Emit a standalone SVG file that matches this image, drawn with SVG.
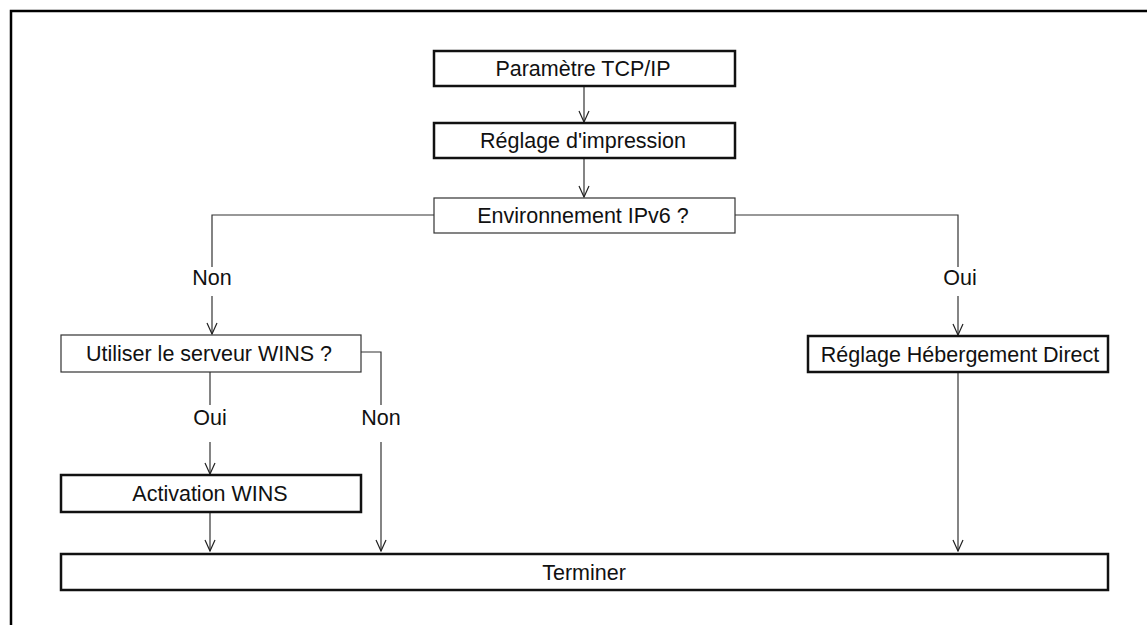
<svg xmlns="http://www.w3.org/2000/svg" width="1147" height="625" viewBox="0 0 1147 625">
<style>
.thick{fill:#fff;stroke:#111;stroke-width:2.5}
.thin{fill:#fff;stroke:#333;stroke-width:1.2}
.t{font-family:"Liberation Sans",Arial,sans-serif;font-size:21.5px;fill:#111;text-anchor:middle}
.c{fill:none;stroke:#333;stroke-width:1.2}
.a{fill:none;stroke:#333;stroke-width:1.2;marker-end:url(#v)}
</style>
<defs>
<marker id="v" markerUnits="userSpaceOnUse" markerWidth="14" markerHeight="14" viewBox="-13 -7 14 14" refX="0" refY="0" orient="auto">
<path d="M-11,-5 L0,0 L-11,5" fill="none" stroke="#222" stroke-width="1.2"/>
</marker>
</defs>
<rect width="1147" height="625" fill="#fff"/>
<path d="M11,625 V11 H1147" fill="none" stroke="#000" stroke-width="2.5"/>
<g id="connectors">
<line class="a" x1="584" y1="86" x2="584" y2="122"/>
<line class="a" x1="584" y1="158" x2="584" y2="197"/>
<polyline class="c" points="434,215 212,215 212,267"/>
<line class="a" x1="212" y1="296" x2="212" y2="334"/>
<polyline class="c" points="735,215 958,215 958,267"/>
<line class="a" x1="958" y1="296" x2="958" y2="335"/>
<line class="c" x1="210" y1="372" x2="210" y2="405"/>
<line class="a" x1="210" y1="442" x2="210" y2="474"/>
<polyline class="c" points="361,352 381,352 381,405"/>
<line class="a" x1="381" y1="442" x2="381" y2="551"/>
<line class="a" x1="210" y1="512" x2="210" y2="551"/>
<line class="a" x1="958" y1="372" x2="958" y2="551"/>
<text class="t" x="212" y="285">Non</text>
<text class="t" x="960" y="285">Oui</text>
<text class="t" x="210" y="425">Oui</text>
<text class="t" x="381" y="425">Non</text>
</g>
<g id="n1"><rect class="thick" x="434" y="51" width="301" height="35"/><text class="t" x="583" y="76">Paramètre TCP/IP</text></g>
<g id="n2"><rect class="thick" x="434" y="123" width="301" height="35"/><text class="t" x="583" y="148">Réglage d'impression</text></g>
<g id="n3"><rect class="thin" x="434" y="198" width="301" height="35"/><text class="t" x="583" y="223">Environnement IPv6 ?</text></g>
<g id="n4"><rect class="thin" x="61" y="335" width="300" height="37"/><text class="t" x="209" y="361">Utiliser le serveur WINS ?</text></g>
<g id="n5"><rect class="thick" x="808" y="336" width="300" height="36"/><text class="t" x="960" y="362">Réglage Hébergement Direct</text></g>
<g id="n6"><rect class="thick" x="61" y="475" width="300" height="37"/><text class="t" x="210" y="501">Activation WINS</text></g>
<g id="n7"><rect class="thick" x="61" y="554" width="1047" height="36"/><text class="t" x="584" y="580">Terminer</text></g>
</svg>
